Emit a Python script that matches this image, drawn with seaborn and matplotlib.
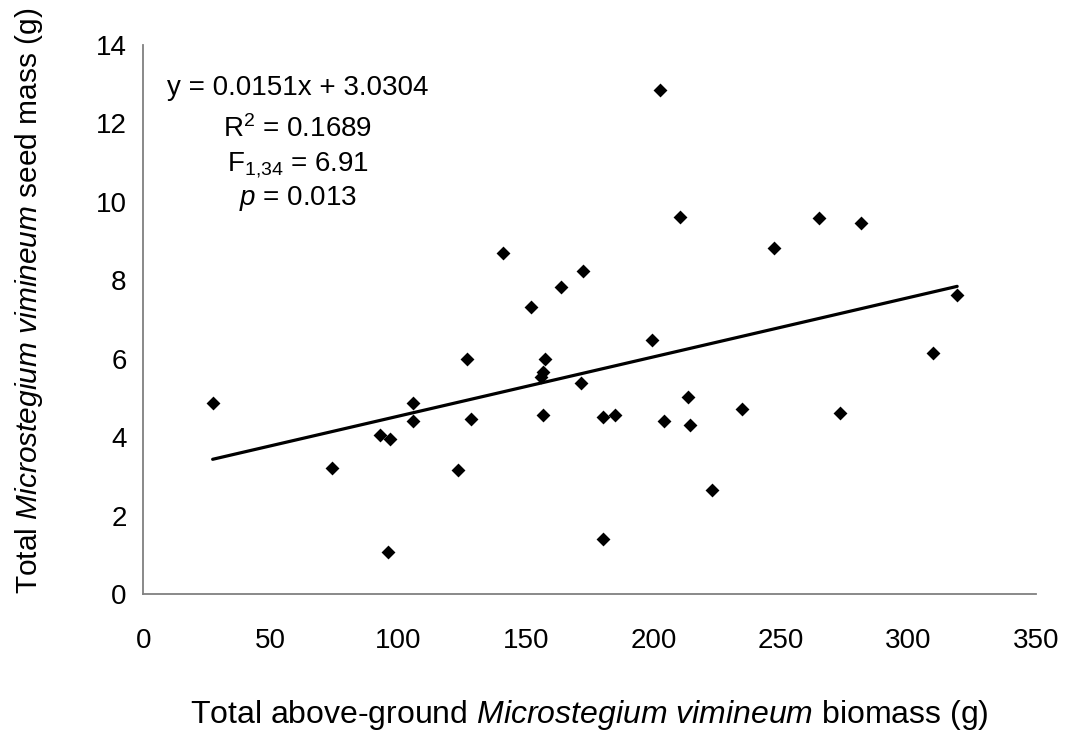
import matplotlib
matplotlib.use("Agg")
import matplotlib.pyplot as plt
import seaborn as sns
import pandas as pd

# Data
biomass = [27.2, 74.0, 92.7, 96.8, 95.9, 105.9, 105.9, 123.2, 128.5, 127.0,
           141.1, 152.0, 156.0, 156.6, 156.6, 157.6, 163.7, 171.5, 172.4, 180.2,
           184.8, 180.2, 199.6, 204.3, 202.7, 210.5, 213.7, 214.5, 223.0, 234.9,
           247.3, 265.1, 273.1, 281.5, 309.8, 319.1]
seed_mass = [4.88, 3.23, 4.06, 3.95, 1.07, 4.88, 4.42, 3.18, 4.47, 6.01,
             8.70, 7.33, 5.55, 5.67, 4.57, 6.01, 7.83, 5.39, 8.25, 4.51,
             4.57, 1.42, 6.47, 4.42, 12.85, 9.62, 5.03, 4.31, 2.66, 4.73,
             8.82, 9.58, 4.62, 9.47, 6.15, 7.63]
slope = 0.0151
intercept = 3.0304
annotations = ["y = 0.0151x + 3.0304", "R$^2$ = 0.1689",
               "F$_{1{,}34}$ = 6.91", "$\\it{p}$ = 0.013"]
x_ticks = [0, 50, 100, 150, 200, 250, 300, 350]
y_ticks = [0, 2, 4, 6, 8, 10, 12, 14]

df = pd.DataFrame({"biomass": biomass, "seed": seed_mass})
fit = pd.DataFrame({"biomass": [min(biomass), max(biomass)]})
fit["seed"] = slope * fit["biomass"] + intercept

sns.set_theme(style="white")
plt.rcParams["font.family"] = ["Liberation Sans", "DejaVu Sans"]
plt.rcParams["mathtext.fontset"] = "custom"
plt.rcParams["mathtext.rm"] = "Liberation Sans"
plt.rcParams["mathtext.it"] = "Liberation Sans:italic"
plt.rcParams["mathtext.default"] = "rm"
plt.rcParams["text.color"] = "black"
plt.rcParams["axes.labelcolor"] = "black"

fig = plt.figure(figsize=(10.7, 7.34), dpi=100)
ax = fig.add_axes([0.1339, 0.1903, 0.9682 - 0.1339, 0.9387 - 0.1903])

sns.scatterplot(data=df, x="biomass", y="seed", marker="D", s=50,
                color="black", edgecolor="black", linewidth=0, ax=ax, zorder=3)
sns.lineplot(data=fit, x="biomass", y="seed", color="black", linewidth=2.3,
             ax=ax, zorder=2)

ax.set_xlim(0, 350)
ax.set_ylim(0, 14)
ax.set_xticks(x_ticks)
ax.set_yticks(y_ticks)
ax.tick_params(axis="both", which="major", labelsize=20, direction="out",
               length=6, width=1.2, color="#808080", pad=18, labelcolor="black")
ax.tick_params(axis="y", pad=6)
for side in ["top", "right"]:
    ax.spines[side].set_visible(False)
for side in ["left", "bottom"]:
    ax.spines[side].set_color("#808080")
    ax.spines[side].set_linewidth(1.3)

ax.set_xlabel("Total above-ground $\\it{Microstegium\\ vimineum}$ biomass (g)",
              fontsize=23, labelpad=32)
ax.set_ylabel("Total $\\it{Microstegium\\ vimineum}$ seed mass (g)",
              fontsize=21.5)
ax.yaxis.set_label_coords(-0.110, 0.535)

ys = [12.9, 11.85, 10.95, 10.1]
for txt, yy in zip(annotations, ys):
    ax.text(60.5, yy, txt, ha="center", va="center", fontsize=20)

fig.savefig("out.png", dpi=100)
